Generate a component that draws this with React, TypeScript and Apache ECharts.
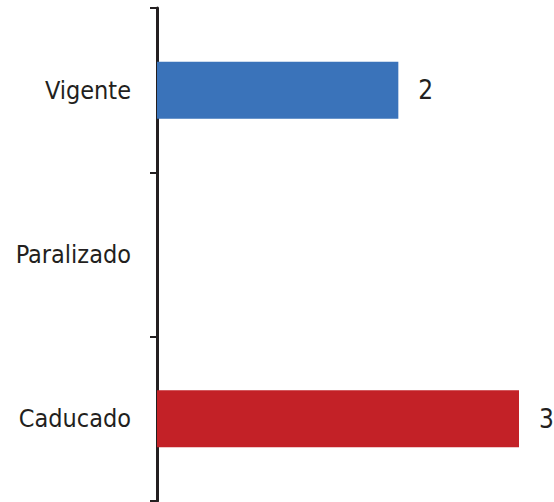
import React, { useEffect, useRef } from "react";
import * as echarts from "echarts";

const categories = ["Vigente", "Paralizado", "Caducado"];
const values = [2, 0, 3];
const barColors = ["#3A73BA", "#3A73BA", "#C32127"];

export default function App() {
  const ref = useRef<HTMLDivElement>(null);
  useEffect(() => {
    if (!ref.current) return;
    const chart = echarts.init(ref.current, null, { renderer: "svg" });
    const font = "'Liberation Sans Narrow', 'DejaVu Sans Condensed', 'Arial Narrow', sans-serif";
    chart.setOption({
      animation: false,
      grid: { left: 157, right: 35, top: 8, bottom: 1, containLabel: false },
      xAxis: {
        type: "value",
        min: 0,
        max: 3,
        show: false,
      },
      yAxis: {
        type: "category",
        data: categories,
        inverse: true,
        axisLine: { show: true, lineStyle: { color: "#231F20", width: 3 } },
        axisTick: { show: true, length: 7, lineStyle: { color: "#231F20", width: 2 } },
        axisLabel: { color: "#231F20", fontSize: 25, fontFamily: font, margin: 26 },
        splitLine: { show: false },
      },
      series: [
        {
          type: "bar",
          data: values.map((v, i) => ({ value: v, itemStyle: { color: barColors[i] } })),
          barWidth: 57,
          label: {
            show: true,
            position: "right",
            distance: 20,
            color: "#231F20",
            fontSize: 26,
            fontFamily: font,
            formatter: (p: any) => (p.value ? String(p.value) : ""),
          },
        },
      ],
    });
    return () => chart.dispose();
  }, []);
  return <div ref={ref} style={{ width: 554, height: 502, position: "absolute", left: 0, top: 0 }} />;
}
